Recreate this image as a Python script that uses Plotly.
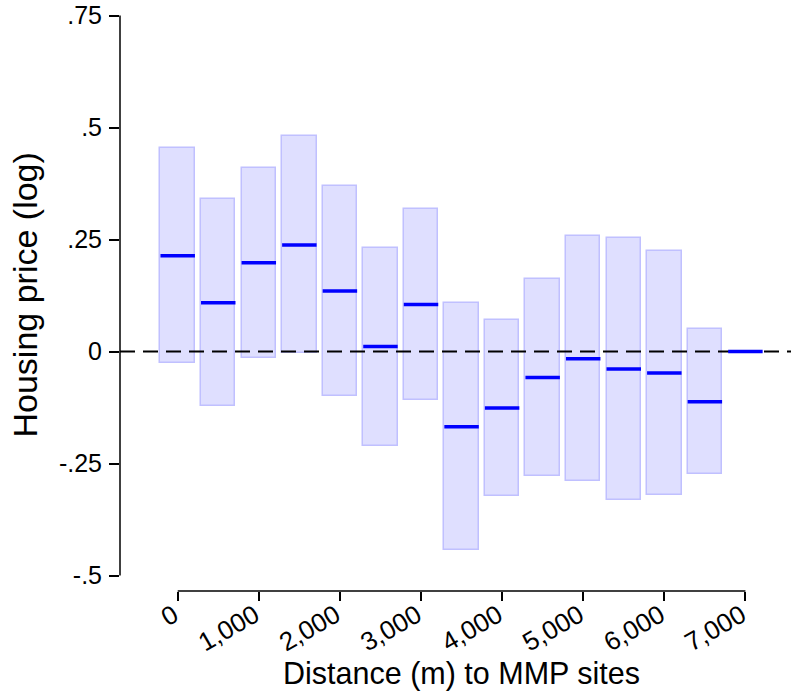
import plotly.graph_objects as go

# Distance bins (m) and estimated effects with confidence bounds
distance = [0, 500, 1000, 1500, 2000, 2500, 3000, 3500, 4000, 4500, 5000, 5500, 6000, 6500, 7000]
estimate = [0.214, 0.109, 0.198, 0.238, 0.135, 0.011, 0.105, -0.168, -0.126, -0.058,
            -0.016, -0.039, -0.048, -0.112, 0.0]
ci_upper = [0.454, 0.340, 0.410, 0.480, 0.369, 0.230, 0.317, 0.108, 0.070, 0.161,
            0.258, 0.253, 0.224, 0.050, None]
ci_lower = [-0.026, -0.122, -0.015, -0.003, -0.100, -0.212, -0.109, -0.442, -0.322, -0.279,
            -0.290, -0.332, -0.320, -0.274, None]

x_tickvals = [0, 1000, 2000, 3000, 4000, 5000, 6000, 7000]
x_ticktext = ["0", "1,000", "2,000", "3,000", "4,000", "5,000", "6,000", "7,000"]
y_tickvals = [0.75, 0.5, 0.25, 0, -0.25, -0.5]
y_ticktext = [".75", ".5", ".25", "0", "-.25", "-.5"]

BOX_W = 425
X_RANGE = [-711.5, 7562]
Y_RANGE = [-0.5346, 0.7623]
FONT = "Arial, Liberation Sans, sans-serif"

fig = go.Figure()

# Confidence-interval boxes
bx, base, height = [], [], []
for d, lo, hi in zip(distance, ci_lower, ci_upper):
    if lo is None or hi is None:
        continue
    bx.append(d)
    base.append(lo)
    height.append(hi - lo)
fig.add_trace(go.Bar(
    x=bx, y=height, base=base, width=BOX_W,
    marker=dict(color="#dfdfff", line=dict(color="#c0c0ff", width=1.5)),
    hoverinfo="skip", showlegend=False,
))

# Zero reference line
fig.add_trace(go.Scatter(
    x=X_RANGE, y=[0, 0], mode="lines",
    line=dict(color="black", width=1.8, dash="15px,8px"),
    hoverinfo="skip", showlegend=False,
))

# Point estimates as horizontal bars across each box
lx, ly = [], []
for d, e in zip(distance, estimate):
    lx += [d - BOX_W / 2, d + BOX_W / 2, None]
    ly += [e, e, None]
fig.add_trace(go.Scatter(
    x=lx, y=ly, mode="lines",
    line=dict(color="#0000ff", width=3.5),
    hoverinfo="skip", showlegend=False,
))

# Axis lines spanning only the tick range
fig.add_shape(type="line", xref="paper", yref="y", x0=0, x1=0,
              y0=min(y_tickvals), y1=max(y_tickvals),
              line=dict(color="black", width=1.5))
fig.add_shape(type="line", xref="x", yref="paper", x0=min(x_tickvals), x1=max(x_tickvals),
              y0=0, y1=0, line=dict(color="black", width=1.5))

# Axis titles
fig.add_annotation(text="Housing price (log)", xref="paper", yref="y",
                   x=0, y=(max(y_tickvals) + min(y_tickvals)) / 2,
                   xshift=-96, textangle=-90, showarrow=False,
                   xanchor="center", yanchor="middle",
                   font=dict(family=FONT, size=34, color="black"))
fig.add_annotation(text="Distance (m) to MMP sites", xref="x", yref="paper",
                   x=(max(x_tickvals) + min(x_tickvals)) / 2, y=0,
                   yshift=-82, showarrow=False,
                   xanchor="center", yanchor="middle",
                   font=dict(family=FONT, size=30.5, color="black"))

fig.update_layout(
    width=791, height=696,
    margin=dict(l=120, r=0, t=10, b=105),
    plot_bgcolor="white", paper_bgcolor="white",
    font=dict(family=FONT, color="black"),
    bargap=0,
    xaxis=dict(range=X_RANGE, showgrid=False, zeroline=False, showline=False,
               tickvals=x_tickvals, ticktext=x_ticktext, tickangle=-30,
               ticks="outside", ticklen=9, tickwidth=1.5, tickcolor="black",
               ticklabelstandoff=-11, ticklabelshift=-4,
               tickfont=dict(family=FONT, size=26, color="black")),
    yaxis=dict(range=Y_RANGE, showgrid=False, zeroline=False, showline=False,
               tickvals=y_tickvals, ticktext=y_ticktext,
               ticks="outside", ticklen=10, tickwidth=1.5, tickcolor="black",
               ticklabelstandoff=2,
               tickfont=dict(family=FONT, size=25, color="black")),
)

fig.write_html("out.html")
